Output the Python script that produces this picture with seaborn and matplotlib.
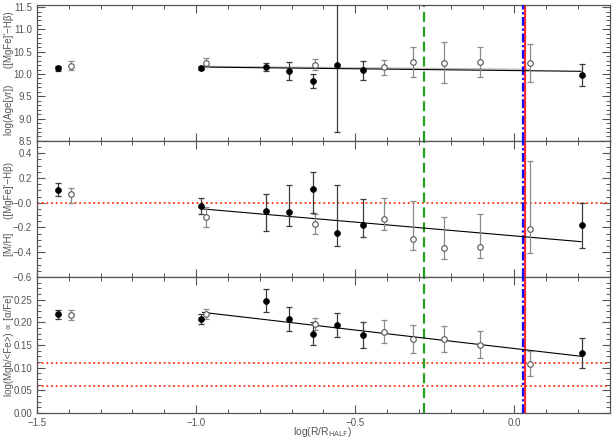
import matplotlib
matplotlib.use("Agg")
import matplotlib.pyplot as plt
import seaborn as sns
import numpy as np
from matplotlib.ticker import MultipleLocator, FuncFormatter

# radial positions, log(R/R_half)
x_filled = [-1.434, -0.986, -0.779, -0.709, -0.632, -0.556, -0.476, 0.211]
x_open = [-1.394, -0.969, -0.626, -0.409, -0.320, -0.222, -0.108, 0.050]

# age panel
age_filled = [10.13, 10.14, 10.15, 10.07, 9.84, 10.21, 10.08, 9.97]
age_filled_err = [0.06, 0.05, 0.085, 0.20, 0.16, 1.5, 0.21, 0.25]
age_open = [10.19, 10.25, 10.21, 10.15, 10.27, 10.25, 10.27, 10.25]
age_open_err = [0.10, 0.10, 0.12, 0.17, 0.34, 0.46, 0.33, 0.43]

# metallicity panel (asymmetric errors)
met_filled = [0.10, -0.03, -0.068, -0.079, 0.11, -0.245, -0.177, -0.183]
met_filled_lo = [0.046, 0.065, 0.16, 0.11, 0.19, 0.105, 0.10, 0.18]
met_filled_hi = [0.06, 0.07, 0.14, 0.22, 0.14, 0.385, 0.21, 0.18]
met_open = [0.068, -0.115, -0.17, -0.13, -0.29, -0.365, -0.36, -0.215]
met_open_lo = [0.068, 0.085, 0.08, 0.09, 0.09, 0.09, 0.087, 0.19]
met_open_hi = [0.052, 0.08, 0.077, 0.165, 0.30, 0.25, 0.27, 0.55]

# alpha/Fe panel
afe_filled = [0.2176, 0.208, 0.248, 0.207, 0.175, 0.194, 0.172, 0.132]
afe_filled_err = [0.010, 0.011, 0.026, 0.026, 0.025, 0.027, 0.029, 0.033]
afe_open = [0.216, 0.219, 0.1956, 0.179, 0.163, 0.163, 0.151, 0.109]
afe_open_err = [0.010, 0.011, 0.013, 0.025, 0.030, 0.029, 0.029, 0.027]

# linear fits
fit_x = [-0.98, 0.21]
age_fit = [10.155, 10.06]
met_fit = [-0.05, -0.315]
afe_fit = [0.222, 0.125]
age_fit_open_x = [-0.97, 0.05]
age_fit_open = [10.17, 10.105]

# reference lines
vline_green = -0.283
vline_blue = 0.026
vline_red = 0.033
met_hlines = [0.0]
afe_hlines = [0.11, 0.06]

sns.set_style("ticks")
plt.rcParams["font.family"] = ["Liberation Sans", "DejaVu Sans"]
grey = "#555555"

fig, axes = plt.subplots(3, 1, figsize=(6.16, 4.40), dpi=100, sharex=True)
fig.subplots_adjust(left=0.060, right=0.990, top=0.989, bottom=0.0614, hspace=0)


def draw_panel(ax, yf, ef, yo, eo, fit, hlines):
    for h in hlines:
        ax.axhline(h, color="#ff3010", lw=1.3, ls=(0, (1, 1.6)), zorder=2)
    ax.axvline(vline_green, color="#22a022", lw=1.6, ls=(0, (4.5, 2.2)), zorder=2)
    ax.axvline(vline_red, color="#ff2a2a", lw=1.6, zorder=2)
    ax.axvline(vline_blue, color="#1010ff", lw=1.6, ls=(0, (4, 1.2, 1, 1.2)), zorder=3)
    sns.lineplot(x=fit_x, y=fit, ax=ax, color="black", lw=0.8, zorder=3)
    ax.errorbar(x_open, yo, yerr=eo, fmt="none", ecolor="#8a8a8a",
                elinewidth=0.9, capsize=2.5, capthick=0.9, zorder=3)
    ax.errorbar(x_filled, yf, yerr=ef, fmt="none", ecolor="#3a3a3a",
                elinewidth=0.9, capsize=2.5, capthick=0.9, zorder=3)
    sns.scatterplot(x=x_open, y=yo, ax=ax, color="white", edgecolor="#555555",
                    linewidth=0.8, s=16, zorder=4)
    sns.scatterplot(x=x_filled, y=yf, ax=ax, color="black", edgecolor="black",
                    linewidth=0.5, s=18, zorder=5)


ax1, ax2, ax3 = axes
sns.lineplot(x=age_fit_open_x, y=age_fit_open, ax=ax1, color="#bbbbbb", lw=0.9, zorder=2)
draw_panel(ax1, age_filled, age_filled_err, age_open, age_open_err, age_fit, [])
draw_panel(ax2, met_filled, [met_filled_lo, met_filled_hi], met_open,
           [met_open_lo, met_open_hi], met_fit, met_hlines)
draw_panel(ax3, afe_filled, afe_filled_err, afe_open, afe_open_err, afe_fit, afe_hlines)

ax1.set_ylim(8.5, 11.55)
ax1.yaxis.set_major_locator(MultipleLocator(0.5))
ax1.yaxis.set_minor_locator(MultipleLocator(0.1))
ax1.yaxis.set_major_formatter(FuncFormatter(lambda v, p: f"{v:.1f}"))

ax2.set_ylim(-0.6, 0.5)
ax2.set_yticks([0.4, 0.2, 0.0, -0.2, -0.4, -0.6])
ax2.yaxis.set_minor_locator(MultipleLocator(0.05))
ax2.yaxis.set_major_formatter(FuncFormatter(
    lambda v, p: "\u22120.0" if abs(v) < 1e-9 else f"{v:.1f}".replace("-", "\u2212")))

ax3.set_ylim(0.0, 0.30)
ax3.set_yticks(np.arange(0.0, 0.26, 0.05))
ax3.yaxis.set_minor_locator(MultipleLocator(0.0125))
ax3.yaxis.set_major_formatter(FuncFormatter(lambda v, p: f"{v:.2f}"))

ax3.set_xlim(-1.5, 0.3)
ax3.xaxis.set_major_locator(MultipleLocator(0.5))
ax3.xaxis.set_minor_locator(MultipleLocator(0.1))
ax3.xaxis.set_major_formatter(FuncFormatter(lambda v, p: f"{v:.1f}".replace("-", "\u2212")))

labels = ["log(Age[yr])      ([MgFe]'\u2212H\u03b2)",
          "[M/H]     ([MgFe]'\u2212H\u03b2)",
          "log(Mgb/<Fe>) \u221d [\u03b1/Fe]"]
for ax, lab in zip(axes, labels):
    for side in ["top", "bottom", "left", "right"]:
        ax.spines[side].set_visible(True)
        ax.spines[side].set_color(grey)
        ax.spines[side].set_linewidth(0.9)
    ax.tick_params(which="both", direction="in", top=True, right=True,
                   color=grey, labelcolor=grey, labelsize=7)
    ax.tick_params(which="major", length=6, width=0.8)
    ax.tick_params(which="minor", length=3, width=0.7)
    pos = ax.get_position()
    fig.text(9 / 616, (pos.y0 + pos.y1) / 2, lab, rotation=90, ha="center",
             va="center", fontsize=7, color=grey)

fig.text(323 / 616, 1 - 432 / 440, r"log(R/R$_{\rm HALF}$)", ha="center",
         va="center", fontsize=7.5, color=grey)

fig.savefig("out.png", dpi=100)
